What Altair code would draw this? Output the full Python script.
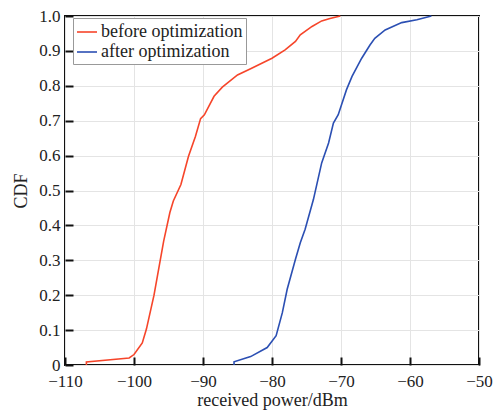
import altair as alt
import pandas as pd

before_x = [-106.9, -106.9, -100.7, -100.0, -98.8, -98.2, -97.1, -96.2, -95.7, -94.8, -94.3, -93.2, -92.1,
            -91.1, -90.35, -89.8, -88.4, -87.2, -85.0, -83.1, -80.0, -78.1, -76.6, -75.9, -74.2,
            -72.8, -71.6, -70.1]
before_y = [0.0, 0.009, 0.02, 0.03, 0.063, 0.103, 0.2, 0.30, 0.355, 0.437, 0.47, 0.517, 0.598,
            0.655, 0.706, 0.717, 0.77, 0.796, 0.831, 0.849, 0.879, 0.903, 0.927, 0.946, 0.97,
            0.986, 0.993, 1.0]
after_x = [-85.5, -85.5, -83.1, -80.7, -79.4, -78.5, -77.8, -76.6, -75.9, -75.2, -74.0, -72.8, -71.8,
           -71.1, -70.4, -69.2, -68.4, -67.0, -65.8, -65.1, -63.6, -61.2, -59.0, -56.9]
after_y = [0.0, 0.009, 0.024, 0.05, 0.084, 0.15, 0.217, 0.303, 0.35, 0.389, 0.474, 0.579, 0.636,
           0.693, 0.717, 0.789, 0.827, 0.879, 0.917, 0.936, 0.96, 0.981, 0.989, 1.0]

series = ["before optimization", "after optimization"]
colors = ["#f6452a", "#2b4fb3"]
x_ticks = [-110, -100, -90, -80, -70, -60, -50]
y_ticks = [0, 0.1, 0.2, 0.3, 0.4, 0.5, 0.6, 0.7, 0.8, 0.9, 1.0]

rows = []
for i, (x, y) in enumerate(zip(before_x, before_y)):
    rows.append({"series": series[0], "power": x, "cdf": y, "order": i})
for i, (x, y) in enumerate(zip(after_x, after_y)):
    rows.append({"series": series[1], "power": x, "cdf": y, "order": i})
df = pd.DataFrame(rows)

FONT = "Liberation Serif"

xscale = alt.Scale(domain=[-110, -50], nice=False, zero=False)
yscale = alt.Scale(domain=[0, 1], nice=False)

main = alt.Chart(df).mark_line(strokeWidth=1.6).encode(
    x=alt.X("power:Q", scale=xscale, title="received power/dBm",
            axis=alt.Axis(values=x_ticks, format="d", ticks=False, domain=False, grid=True,
                          gridColor="#e4e4e4", gridWidth=1, labelPadding=8, labelFlush=False,
                          labelFont=FONT, labelFontSize=17, labelColor="#222",
                          titleFont=FONT, titleFontSize=18, titleFontWeight="normal",
                          titleColor="#222", titlePadding=2)),
    y=alt.Y("cdf:Q", scale=yscale, title="CDF",
            axis=alt.Axis(values=y_ticks, ticks=False, domain=False, grid=True,
                          gridColor="#e4e4e4", gridWidth=1, labelPadding=5, labelFlush=False,
                          labelExpr="datum.value == 0 ? '0' : format(datum.value, '.1f')",
                          labelFont=FONT, labelFontSize=17, labelColor="#222",
                          titleFont=FONT, titleFontSize=18, titleFontWeight="normal",
                          titleColor="#222", titlePadding=8)),
    color=alt.Color("series:N", scale=alt.Scale(domain=series, range=colors),
                    legend=alt.Legend(title=None, orient="none", legendX=8, legendY=2,
                                      symbolType="stroke", symbolSize=400, symbolStrokeWidth=1.6,
                                      labelFont=FONT, labelFontSize=18, labelColor="#222",
                                      strokeColor="#999", padding=3, rowPadding=0,
                                      labelOffset=3, fillColor="white")),
    order="order:Q",
)

ticks_layer = alt.Chart(df).mark_line(strokeOpacity=0).encode(
    x=alt.X("power:Q", scale=xscale, title=None,
            axis=alt.Axis(orient="bottom", values=x_ticks, offset=-8, ticks=True, tickSize=8,
                          tickWidth=2, tickColor="#111", labels=False, domain=False, grid=False)),
    y=alt.Y("cdf:Q", scale=yscale, title=None,
            axis=alt.Axis(orient="left", values=y_ticks, offset=-8, ticks=True, tickSize=8,
                          tickWidth=2, tickColor="#111", labels=False, domain=False, grid=False)),
    detail="series:N",
    order="order:Q",
)

chart = alt.layer(main, ticks_layer).resolve_axis(x="independent", y="independent").properties(
    width=414, height=349,
    autosize=alt.AutoSizeParams(type="none"),
    padding={"left": 57, "top": 8, "right": 14, "bottom": 48},
    background="white",
).configure_view(stroke="#111", strokeWidth=2)

chart.save("out.html", embed_options={"renderer": "svg", "actions": False})
